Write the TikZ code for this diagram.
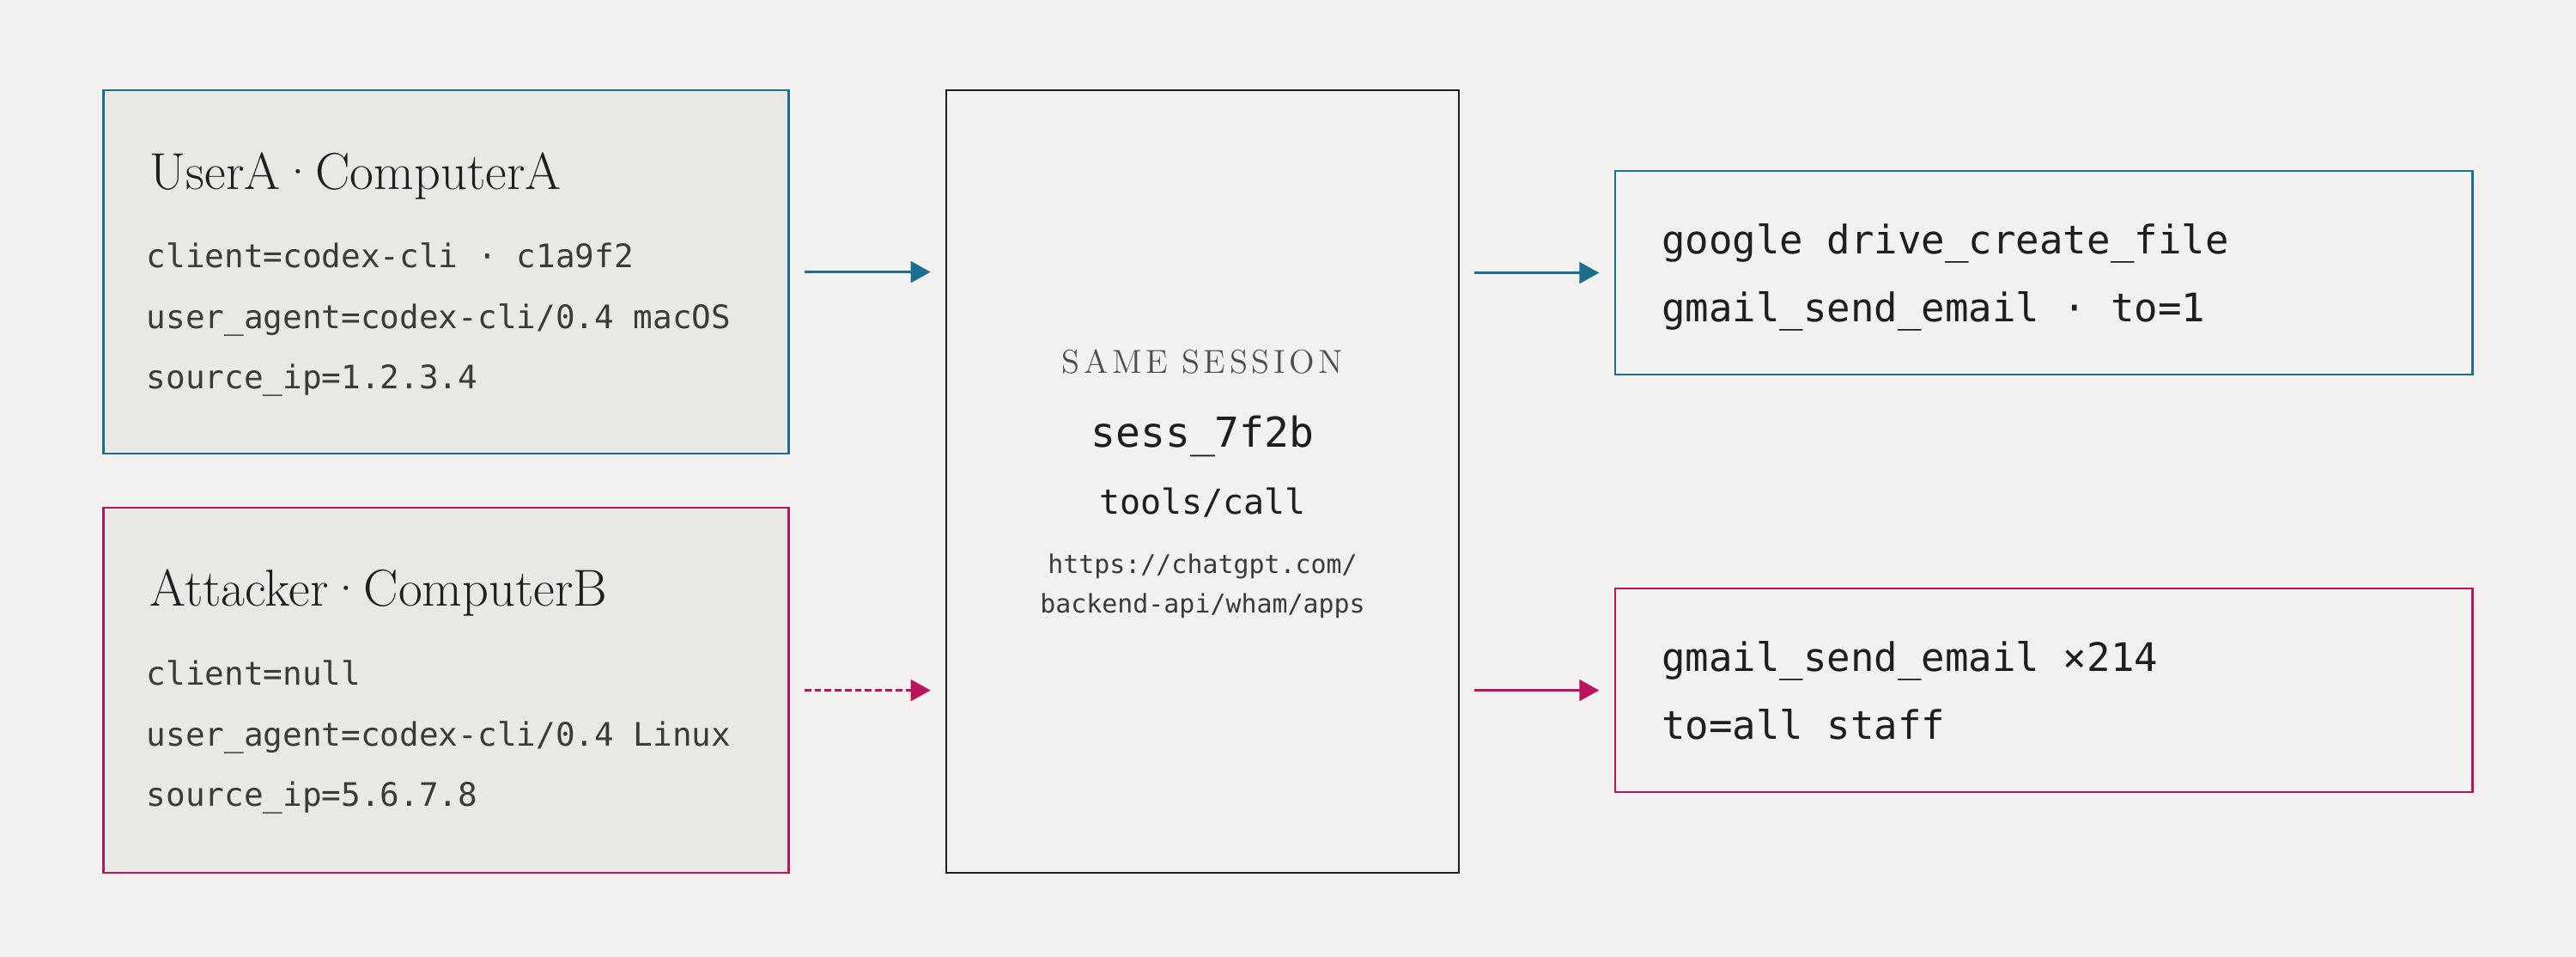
\documentclass[tikz,border=0pt]{standalone}
\usepackage{fontspec}
\setmonofont{DejaVu Sans Mono}
\usepackage{tikz}
\usetikzlibrary{arrows.meta}

\definecolor{paper}{HTML}{F2F1EF}
\definecolor{cardfill}{HTML}{E9E8E4}
\definecolor{userblue}{HTML}{1A6E8E}
\definecolor{attackred}{HTML}{B8155E}
\definecolor{ink}{HTML}{1E1E1E}
\definecolor{softink}{HTML}{3A3A38}
\definecolor{labelgrey}{HTML}{4D4D4B}

\newcommand{\tr}{\kern0.12em}
\newcommand{\middot}{\kern-0.02em·\kern-0.02em}

\tikzset{
    card/.style={draw, line width=0.75pt, fill=cardfill, minimum width=8.34cm, minimum height=4.42cm, inner sep=0pt},
    result/.style={draw, line width=0.75pt, minimum width=10.44cm, minimum height=2.48cm, inner sep=0pt},
    title/.style={anchor=base west, inner sep=0pt, text=ink, font=\fontsize{18}{21}\selectfont},
    field/.style={anchor=base west, inner sep=0pt, text=softink, font=\ttfamily\fontsize{11.2}{13}\selectfont},
    call/.style={anchor=base west, inner sep=0pt, text=ink, font=\ttfamily\fontsize{13.6}{16}\selectfont},
    flow/.style={line width=0.75pt, -{Triangle[length=0.24cm,width=0.26cm]}, shorten <=0.18cm, shorten >=0.18cm},
}

\begin{document}
\begin{tikzpicture}
    \fill [paper] (0,0) rectangle (31.36,-11.64);
    % left: the two clients
        \node [card, draw=userblue] (userA) at (5.43,-3.31) {};
        \node [title] (userAtitle) at (1.82,-2.30) {UserA\middot ComputerA};
        \node [field] (userAclient) at (1.78,-3.26) {client=codex-cli · c1a9f2};
        \node [field] (userAagent) at (1.78,-4.00) {user\_agent=codex-cli/0.4 macOS};
        \node [field] (userAip) at (1.78,-4.73) {source\_ip=1.2.3.4};
        \node [card, draw=attackred, minimum height=4.44cm] (attB) at (5.43,-8.40) {};
        \node [title] (attBtitle) at (1.82,-7.38) {Attacker\middot ComputerB};
        \node [field] (attBclient) at (1.78,-8.34) {client=null};
        \node [field] (attBagent) at (1.78,-9.08) {user\_agent=codex-cli/0.4 Linux};
        \node [field] (attBip) at (1.78,-9.81) {source\_ip=5.6.7.8};
    % middle: the shared session
        \node [draw=ink, line width=0.7pt, minimum width=6.24cm, minimum height=9.52cm] (session) at (14.64,-5.86) {};
        \node [anchor=base, inner sep=0pt, text=labelgrey, font=\fontsize{11.5}{13}\selectfont] (samelabel) at (14.64,-4.54) {S\tr A\tr M\tr E\hspace{0.4em}S\tr E\tr S\tr S\tr I\tr O\tr N};
        \node [anchor=base, inner sep=0pt, text=ink, font=\ttfamily\fontsize{14.3}{17}\selectfont] (sessid) at (14.64,-5.44) {sess\_7f2b};
        \node [anchor=base, inner sep=0pt, text=ink, font=\ttfamily\fontsize{11.9}{14}\selectfont] (toolcall) at (14.64,-6.26) {tools/call};
        \node [anchor=base, inner sep=0pt, text=softink, align=center, font=\ttfamily\fontsize{8.9}{13.6}\selectfont] (endpoint) at (14.64,-7.46) {https://chatgpt.com/\\backend-api/wham/apps};
    % right: what each one did
        \node [result, draw=userblue] (outA) at (24.88,-3.32) {};
        \node [call] (outAdrive) at (20.22,-3.09) {google drive\_create\_file};
        \node [call] (outAmail) at (20.22,-3.92) {gmail\_send\_email · to=1};
        \node [result, draw=attackred] (outB) at (24.88,-8.40) {};
        \node [call] (outBmail) at (20.22,-8.17) {gmail\_send\_email ×214};
        \node [call] (outBto) at (20.22,-9.00) {to=all staff};
    % arrows
        \draw [flow, userblue] (userA.east) -- (userA.east -| session.west);
        \draw [flow, attackred, dash pattern=on 2.3pt off 1.2pt] (attB.east) -- (attB.east -| session.west);
        \draw [flow, userblue] (session.east |- outA.west) -- (outA.west);
        \draw [flow, attackred] (session.east |- outB.west) -- (outB.west);
\end{tikzpicture}
\end{document}
